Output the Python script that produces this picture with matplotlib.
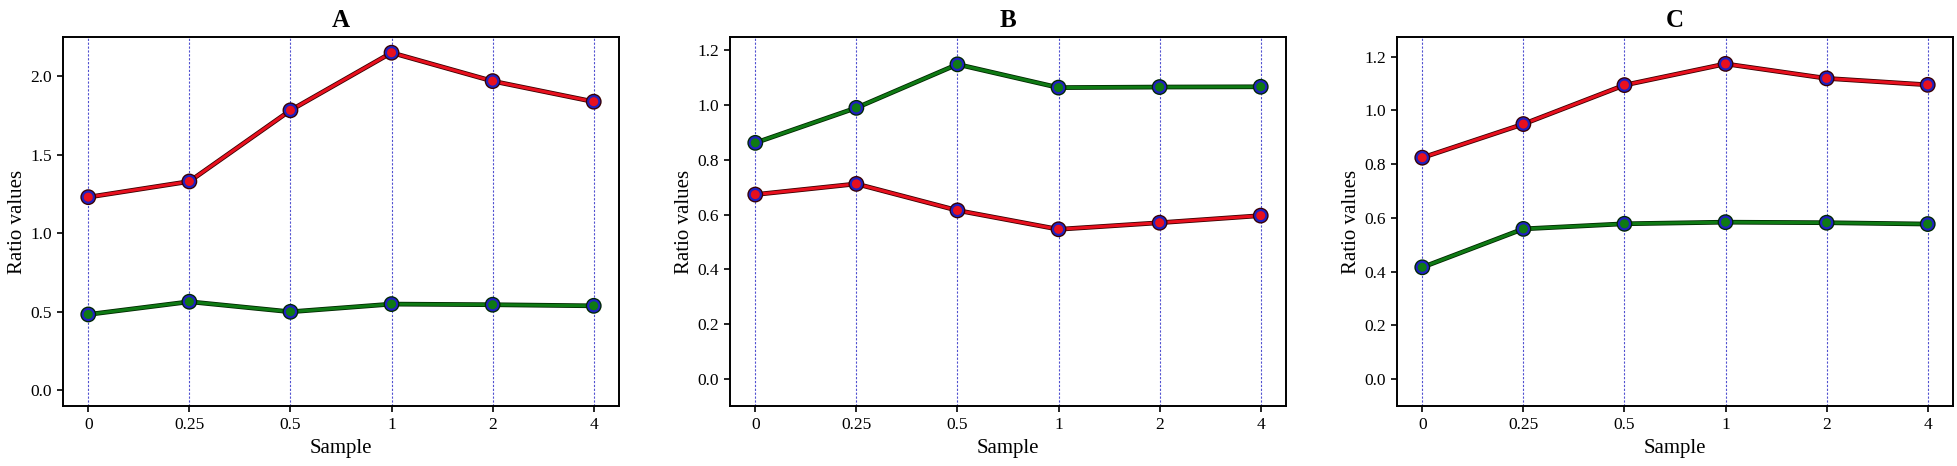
import matplotlib
matplotlib.use("Agg")
import matplotlib.pyplot as plt
import matplotlib.patheffects as pe

plt.rcParams["font.family"] = ["Liberation Serif", "DejaVu Serif"]

samples = ["0", "0.25", "0.5", "1", "2", "4"]
panels = ["A", "B", "C"]

a_red = [1.23, 1.33, 1.783, 2.15, 1.969, 1.838]
a_green = [0.483, 0.564, 0.50, 0.549, 0.545, 0.538]
b_red = [0.673, 0.712, 0.615, 0.546, 0.570, 0.596]
b_green = [0.862, 0.990, 1.149, 1.064, 1.066, 1.067]
c_red = [0.824, 0.949, 1.094, 1.173, 1.119, 1.095]
c_green = [0.416, 0.559, 0.578, 0.584, 0.582, 0.577]

series = {"A": (a_red, a_green), "B": (b_red, b_green), "C": (c_red, c_green)}

fig = plt.figure(figsize=(19.57, 4.66), dpi=100)
lefts = [63, 730, 1397]
x = list(range(len(samples)))
for name, left in zip(panels, lefts):
    ax = fig.add_axes([left / 1957, 60 / 466, 556 / 1957, 369 / 466])
    red, green = series[name]
    for xi in x:
        ax.axvline(xi, color="#3232c8", ls=(0, (2, 1.5)), lw=0.8, alpha=0.85, zorder=1)
    for vals, col, edge in [(red, "#e8101e", "#3a0000"), (green, "#0f7a14", "#002800")]:
        ax.plot(x, vals, color=col, lw=2.2, marker="o", ms=8, mfc=col, mec="#2020c0", mew=1.5, zorder=3,
                path_effects=[pe.Stroke(linewidth=3.4, foreground=edge), pe.Normal()])
    top = max(red + green)
    ax.set_ylim(-0.1, top + 0.1)
    ax.set_xlim(-0.25, len(samples) - 0.75)
    ax.set_xticks(x)
    ax.set_xticklabels(samples)
    ax.tick_params(labelsize=12.5, direction="out", length=4, width=1.2, color="black", pad=4)
    for s in ax.spines.values():
        s.set_linewidth(1.4)
    ax.set_title(name, fontsize=18, fontweight="bold", pad=7)
    ax.set_xlabel("Sample", fontsize=15, labelpad=4)
    ax.set_ylabel("Ratio values", fontsize=15, labelpad=2)

fig.savefig("out.png", dpi=100)
